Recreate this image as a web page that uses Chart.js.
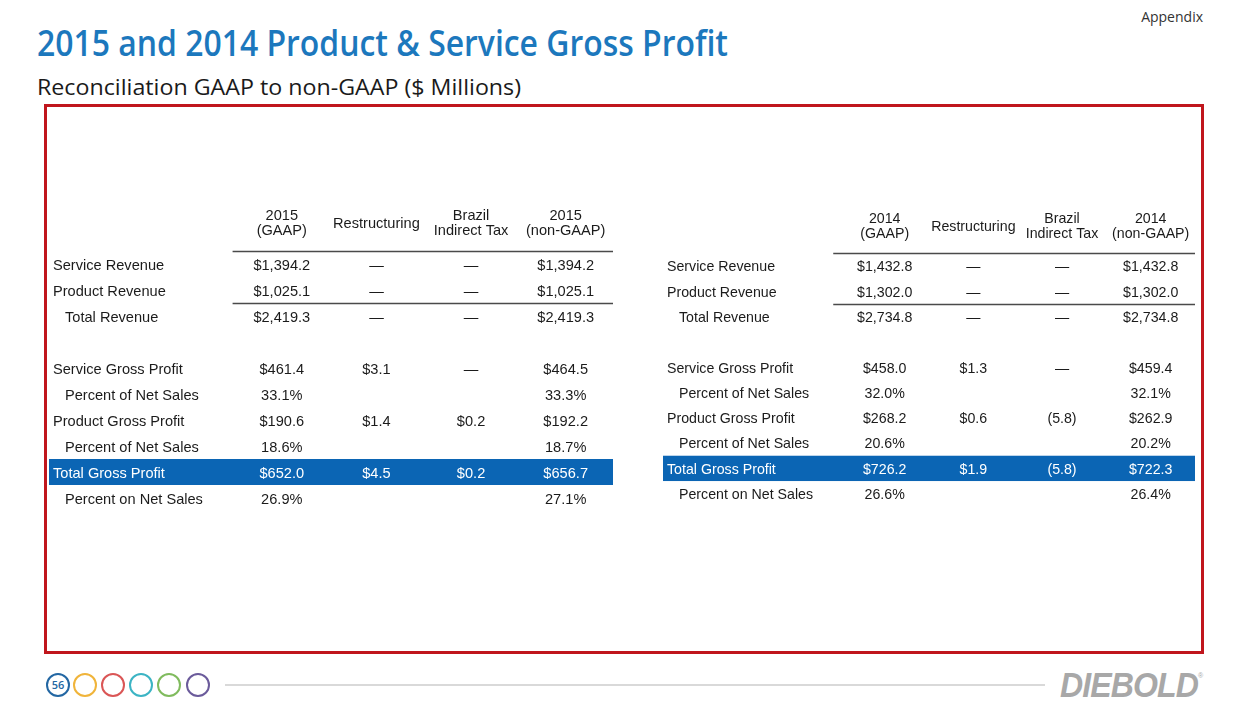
<!DOCTYPE html>
<html>
<head>
<meta charset="utf-8">
<script src="https://cdn.jsdelivr.net/npm/chart.js@4.4.1/dist/chart.umd.min.js"></script>
<style>
  html, body { margin: 0; padding: 0; background: #ffffff; }
  body { width: 1248px; height: 720px; position: relative; overflow: hidden; font-family: "Open Sans", sans-serif; }
  .abs { position: absolute; white-space: nowrap; }
  #title { left: 37px; top: 25px; font-size: 36px; line-height: 36px; font-weight: 600; color: #1c78bd; transform-origin: left top; }
  #subtitle { left: 37px; top: 75px; font-size: 22px; line-height: 22px; font-weight: 400; color: #1a1a1a; transform-origin: left top; }
  #appendix { right: 45px; top: 8px; font-size: 14px; line-height: 18px; color: #333; }
  #frame { left: 44px; top: 104px; width: 1154px; height: 544px; border: 3px solid #c0161d; }
  canvas { position: absolute; }
  .dot { position: absolute; width: 20px; height: 20px; border-radius: 50%; border: 2px solid; top: 673px; box-sizing: content-box; }
  #pg { font-size: 11px; line-height: 20px; text-align: center; color: #2367a3; font-weight: 600; }
  #rule { left: 225px; top: 684px; width: 820px; height: 2px; background: #d9d9d9; }
  #logo { left: 1060px; top: 667px; font-family: "Liberation Sans", Arial, sans-serif; font-style: italic; font-weight: 700; font-size: 35px; line-height: 36px; color: #a8a8a8; letter-spacing: -1px; transform-origin: left top; }
  #reg { left: 1198px; top: 672px; font-size: 7px; color: #a8a8a8; font-family: "Liberation Sans", sans-serif; }
</style>
</head>
<body>
<div id="title" class="abs">2015 and 2014 Product &amp; Service Gross Profit</div>
<div id="subtitle" class="abs">Reconciliation GAAP to non-GAAP ($ Millions)</div>
<div id="appendix" class="abs">Appendix</div>
<div id="frame" class="abs"></div>

<canvas id="t2015" width="564" height="338" style="left:49px; top:186px;"></canvas>
<canvas id="t2014" width="532" height="329" style="left:663px; top:190px;"></canvas>

<div class="dot" id="pg" style="left:46px; border-color:#2367a3;">56</div>
<div class="dot" style="left:73px; border-color:#f0b43a;"></div>
<div class="dot" style="left:101px; border-color:#da5656;"></div>
<div class="dot" style="left:129px; border-color:#3cb4c4;"></div>
<div class="dot" style="left:157px; border-color:#80bb5e;"></div>
<div class="dot" style="left:186px; border-color:#6b5b9b;"></div>
<div id="rule" class="abs"></div>
<div id="logo" class="abs">DIEBOLD</div>
<div id="reg" class="abs">®</div>

<script>
// ---------------- DATA ----------------
const rowLabels = ['Service Revenue', 'Product Revenue', 'Total Revenue', '',
  'Service Gross Profit', 'Percent of Net Sales', 'Product Gross Profit',
  'Percent of Net Sales', 'Total Gross Profit', 'Percent on Net Sales'];
const rowUnits = ['usd', 'usd', 'usd', null, 'usd', 'pct', 'usd', 'pct', 'usd', 'pct'];

const headers2015 = ['2015\n(GAAP)', 'Restructuring', 'Brazil\nIndirect Tax', '2015\n(non-GAAP)'];
const headers2014 = ['2014\n(GAAP)', 'Restructuring', 'Brazil\nIndirect Tax', '2014\n(non-GAAP)'];

const gaap2015          = [1394.2, 1025.1, 2419.3, null, 461.4, 33.1, 190.6, 18.6, 652.0, 26.9];
const restructuring2015 = [0, 0, 0, null, 3.1, null, 1.4, null, 4.5, null];
const brazilTax2015     = [0, 0, 0, null, 0, null, 0.2, null, 0.2, null];
const nonGaap2015       = [1394.2, 1025.1, 2419.3, null, 464.5, 33.3, 192.2, 18.7, 656.7, 27.1];

const gaap2014          = [1432.8, 1302.0, 2734.8, null, 458.0, 32.0, 268.2, 20.6, 726.2, 26.6];
const restructuring2014 = [0, 0, 0, null, 1.3, null, 0.6, null, 1.9, null];
const brazilTax2014     = [0, 0, 0, null, 0, null, -5.8, null, -5.8, null];
const nonGaap2014       = [1432.8, 1302.0, 2734.8, null, 459.4, 32.1, 262.9, 20.2, 722.3, 26.4];

// ---------------- STYLE ----------------
const indentedRows = [2, 5, 7, 9];
const highlightRow = 8;

function fmt(v, unit) {
  if (v === null || unit === null) return '';
  if (unit === 'pct') return v.toFixed(1) + '%';
  if (v === 0) return '\u2014';
  if (v < 0) return '(' + Math.abs(v).toFixed(1) + ')';
  const parts = v.toFixed(1).split('.');
  parts[0] = parts[0].replace(/\B(?=(\d{3})+(?!\d))/g, ',');
  return '$' + parts.join('.');
}

const tablePlugin = {
  id: 'tableDraw',
  beforeDatasetsDraw(chart, args, o) {
    const { ctx, chartArea, scales: { x, y } } = chart;
    ctx.save();
    const t = y.getPixelForValue(highlightRow - 0.5);
    const b = y.getPixelForValue(highlightRow + 0.5);
    ctx.fillStyle = o.bandColor;
    ctx.fillRect(chartArea.left, t, chartArea.right - chartArea.left, b - t);
    ctx.strokeStyle = o.ruleColor;
    ctx.lineWidth = 1.4;
    o.rules.forEach(rv => {
      const py = Math.round(y.getPixelForValue(rv)) + 0.5;
      ctx.beginPath();
      ctx.moveTo(x.getPixelForValue(o.ruleStart), py);
      ctx.lineTo(chartArea.right, py);
      ctx.stroke();
    });
    ctx.restore();
  },
  afterDatasetsDraw(chart, args, o) {
    const { ctx, chartArea, scales: { x, y } } = chart;
    ctx.save();
    ctx.font = o.fontSize + 'px "Liberation Sans", Arial, sans-serif';
    ctx.textBaseline = 'middle';
    const dy = o.textShift;
    ctx.fillStyle = o.textColor;
    ctx.textAlign = 'center';
    o.headers.forEach((h, i) => {
      const lines = h.split('\n');
      const cx = x.getPixelForValue(i + 1);
      const cy = y.getPixelForValue(o.headerRow) + dy;
      lines.forEach((ln, k) => {
        ctx.fillText(ln, cx, cy + (k - (lines.length - 1) / 2) * o.headerLineGap);
      });
    });
    ctx.textAlign = 'left';
    rowLabels.forEach((lab, i) => {
      if (!lab) return;
      ctx.fillStyle = i === highlightRow ? '#ffffff' : o.textColor;
      const px = chartArea.left + 4 + (indentedRows.includes(i) ? 12 : 0);
      ctx.fillText(lab, px, y.getPixelForValue(i) + dy);
    });
    ctx.textAlign = 'center';
    chart.data.datasets.forEach((ds, di) => {
      const meta = chart.getDatasetMeta(di);
      meta.data.forEach((el, j) => {
        const raw = ds.data[j];
        const txt = fmt(raw.v, rowUnits[raw.y]);
        if (!txt) return;
        ctx.fillStyle = raw.y === highlightRow ? '#ffffff' : o.textColor;
        ctx.fillText(txt, el.x, el.y + dy);
      });
    });
    ctx.restore();
  }
};

function columnDataset(values, col) {
  const pts = [];
  values.forEach((v, i) => { if (v !== null) pts.push({ x: col, y: i, v: v }); });
  return { data: pts, pointRadius: 0, pointHoverRadius: 0, showLine: false };
}

function makeTable(id, cols, headers, xMin, xMax, fontSize, ruleStart) {
  return new Chart(document.getElementById(id), {
    type: 'scatter',
    data: { datasets: cols.map((c, k) => columnDataset(c, k + 1)) },
    options: {
      responsive: false,
      animation: false,
      devicePixelRatio: 1,
      events: [],
      layout: { padding: 0 },
      scales: {
        x: { type: 'linear', display: false, min: xMin, max: xMax },
        y: { type: 'linear', display: false, reverse: true, min: -3, max: 10 }
      },
      plugins: {
        legend: { display: false },
        tooltip: { enabled: false },
        tableDraw: {
          headers: headers,
          headerRow: -1.6,
          headerLineGap: 15,
          rules: [-0.5, 1.5],
          ruleStart: ruleStart,
          ruleColor: '#4a4a4a',
          bandColor: '#0b65b4',
          textColor: '#1b1b1b',
          fontSize: fontSize,
          textShift: 1.5
        }
      }
    },
    plugins: [tablePlugin]
  });
}

makeTable('t2015', [gaap2015, restructuring2015, brazilTax2015, nonGaap2015], headers2015, -1.46, 4.5, 14.6, 0.48);
makeTable('t2014', [gaap2014, restructuring2014, brazilTax2014, nonGaap2014], headers2014, -1.5, 4.5, 14.2, 0.42);

function fit(id, w) {
  const el = document.getElementById(id);
  el.style.transform = 'none';
  const cur = el.getBoundingClientRect().width;
  if (cur > 0) el.style.transform = 'scaleX(' + (w / cur) + ')';
}
function fitAll() { fit('title', 691); fit('subtitle', 484); fit('logo', 138); }
fitAll();
if (document.fonts && document.fonts.ready) document.fonts.ready.then(fitAll);
</script>
</body>
</html>
